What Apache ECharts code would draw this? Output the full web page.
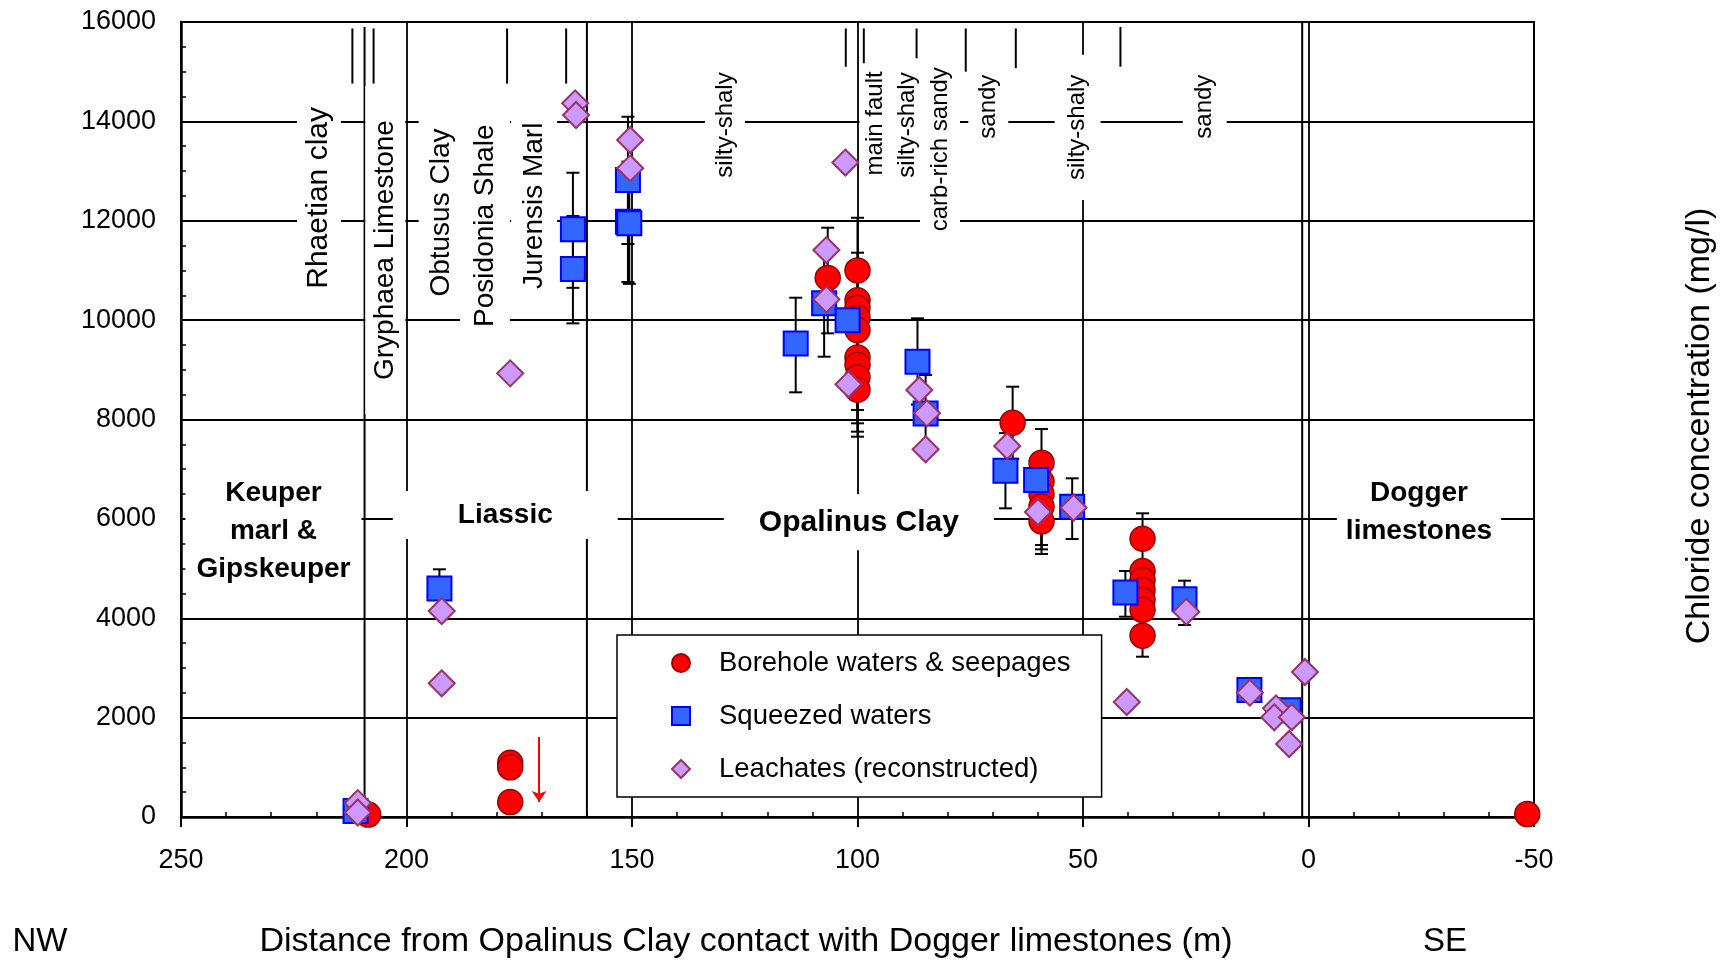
<!DOCTYPE html>
<html>
<head>
<meta charset="utf-8">
<title>Chloride profile</title>
<script src="https://cdn.jsdelivr.net/npm/echarts/dist/echarts.min.js"></script>
<style>
html, body { margin: 0; padding: 0; background: #fff; }
#main { width: 1722px; height: 962px; }
</style>
</head>
<body>
<div id="main"></div>
<script>
var FONT = "'Liberation Sans', Arial, sans-serif";

// borehole waters & seepages (m, mg/l)
var boreX = [208.5, 177, 177, 177, 106.6, 100, 100, 100, 100, 100, 100, 100, 100, 100,
    65.6, 59.2, 59.2, 59.2, 59.2, 59.2, 36.8, 36.8, 36.8, 36.8, 36.8, 36.8, 36.8, -48.5];
var boreY = [50, 1090, 1000, 300, 10850, 11000, 10400, 10250, 10050, 9800, 9250, 9100, 8850, 8600,
    7935, 7130, 6750, 6500, 6250, 5950, 5600, 4950, 4770, 4570, 4370, 4170, 3650, 60];
// error bars: x, low, high
var boreErrX = [106.6, 100, 100, 100, 100, 100, 100, 65.6, 59.2, 59.2, 59.2, 36.8, 36.8];
var boreErrLo = [9734, 9940, 9440, 8191, 7923, 7755, 7654, 7210, 5474, 5387, 5293, 5088, 3226];
var boreErrHi = [11860, 12060, 11357, 9009, 9777, 10445, 10846, 8660, 7808, 7100, 6600, 6112, 4074];

// squeezed waters
var sqX = [211.3, 192.7, 163.1, 163.1, 150.9, 150.9, 150.6, 113.7, 107.4, 102.2, 86.7, 84.9,
    67.2, 60.4, 52.4, 40.6, 27.5, 13.1, 4.4];
var sqY = [120, 4600, 11830, 11030, 12820, 11980, 11950, 9530, 10340, 10000, 9160, 8120,
    6970, 6780, 6245, 4520, 4380, 2556, 2150];
var sqErrX = [192.7, 163.1, 163.1, 150.9, 150.9, 150.6, 113.7, 107.4, 86.7, 84.9, 67.2, 52.4, 40.6, 27.5];
var sqErrLo = [4220, 10650, 9935, 11532, 10767, 10730, 8547, 9264, 8300, 7350, 6212, 5595, 4031, 3864];
var sqErrHi = [4985, 12966, 12095, 14093, 13190, 13170, 10451, 11424, 10036, 8895, 7726, 6816, 4951, 4756];

// leachates (reconstructed)
var leachX = [210.8, 210.8, 192.2, 192.2, 177.0, 162.6, 162.4, 150.4, 150.4, 106.9, 106.9, 102.7,
    102.0, 86.3, 84.6, 84.9, 66.8, 60.0, 52.1, 40.3, 27.1, 13.0, 7.2, 7.6, 3.7, 4.3, 0.8];
var leachY = [280, 90, 4146, 2691, 8929, 14363, 14128, 13625, 13055, 11410, 10418, 13171,
    8708, 8593, 8124, 7400, 7466, 6138, 6225, 2314, 4132, 2502, 2187, 2006, 2006, 1469, 2918];

// red arrow (upper limit) at Liassic
var arrowX = 170.6;
var arrowY = [1610, 300];

// formation boundaries drawn as vertical segments
var boundX = [212.0, 209.3, 207.3, 177.7, 164.6, 160, 102.6, 98.6, 86.9, 76.0, 64.9, 41.7, 1.4];
var boundTop = [15870, 15900, 15870, 15870, 15870, 16000, 15870, 15870, 15870, 15870, 15870, 15900, 16000];
var boundBottom = [14760, 0, 14760, 14760, 14760, 0, 15100, 15070, 15270, 15000, 15070, 15100, 0];

// annotations
var unitText = ['Rhaetian clay', 'Gryphaea Limestone', 'Obtusus Clay', 'Posidonia Shale', 'Jurensis Marl'];
var unitX = [219.4, 204.7, 192.2, 182.6, 171.7];
var unitY = [12460, 11410, 12165, 11900, 12300];

var faciesText = ['silty-shaly', 'main fault', 'silty-shaly', 'carb-rich sandy', 'sandy', 'silty-shaly', 'sandy'];
var faciesX = [129.4, 96.0, 88.9, 81.7, 71.0, 51.2, 23.0];
var faciesY = [13927, 13960, 13927, 13440, 14296, 13880, 14296];

var regionText = ['Keuper\nmarl &\nGipskeuper', 'Liassic', 'Opalinus Clay', 'Dogger\nlimestones'];
var regionX = [229.5, 178.1, 99.7, -24.5];
var regionY = [5755, 6078, 5930, 6138];

var xTicks = [250, 200, 150, 100, 50, 0, -50];
var yTicks = [0, 2000, 4000, 6000, 8000, 10000, 12000, 14000, 16000];

// label styling (white boxes cut the grid lines)
var unitSize = [30, 28, 28, 28, 28];
var unitPad = [[6, 10], [5, 34], [8, 10], [10, 10], [8, 10]];
var faciesPad = [[7, 8], [3, 8], [7, 8], [7, 8], [7, 8], [10, 20], [9, 8]];
var regionSize = [28, 28, 30, 28];
var regionPad = [[2, 11], [5, 65], [9, 35], [2, 9]];

function zip(xs, ys) {
    return xs.map(function (x, i) { return [x, ys[i]]; });
}

function zip3(xs, a, b) {
    return xs.map(function (x, i) { return [x, a[i], b[i]]; });
}

function rotatedLabels(texts, xs, ys, sizes, pads) {
    return texts.map(function (t, i) {
        var fs = sizes[i];
        return {
            name: t,
            value: [xs[i], ys[i]],
            label: {
                rotate: 90,
                fontSize: fs,
                lineHeight: fs + 2,
                padding: [pads[i][0], pads[i][1], pads[i][0], pads[i][1]]
            }
        };
    });
}

function flatLabels(texts, xs, ys, sizes, pads) {
    return texts.map(function (t, i) {
        return {
            name: t,
            value: [xs[i], ys[i]],
            label: {
                rotate: 0,
                fontSize: sizes[i],
                fontWeight: 'bold',
                lineHeight: 38,
                padding: [pads[i][0], pads[i][1], pads[i][0], pads[i][1]]
            }
        };
    });
}

function errorBar(params, api) {
    var x = api.value(0);
    var top = api.coord([x, api.value(2)]);
    var bot = api.coord([x, api.value(1)]);
    var w = 6.5;
    var st = { stroke: '#000', lineWidth: 2 };
    return {
        type: 'group',
        children: [
            { type: 'line', shape: { x1: top[0], y1: top[1], x2: bot[0], y2: bot[1] }, style: st },
            { type: 'line', shape: { x1: top[0] - w, y1: top[1], x2: top[0] + w, y2: top[1] }, style: st },
            { type: 'line', shape: { x1: bot[0] - w, y1: bot[1], x2: bot[0] + w, y2: bot[1] }, style: st }
        ]
    };
}

function boundLine(params, api) {
    var x = api.value(0);
    var top = api.coord([x, api.value(2)]);
    var bot = api.coord([x, api.value(1)]);
    return {
        type: 'line',
        shape: { x1: top[0], y1: top[1], x2: bot[0], y2: bot[1] },
        style: { stroke: '#000', lineWidth: 2 }
    };
}

var myChart = echarts.init(document.getElementById('main'));

var lineStyle = { color: '#000', width: 1.8 };

var option = {
    animation: false,
    backgroundColor: '#fff',
    textStyle: { fontFamily: FONT },
    grid: {
        left: 181, top: 22, right: 188, bottom: 145,
        show: true, borderColor: '#000', borderWidth: 2,
        containLabel: false, outerBoundsMode: 'none'
    },
    xAxis: {
        type: 'value', inverse: true, min: -50, max: 250, interval: 50,
        axisLine: { show: true, onZero: false, lineStyle: { color: '#000', width: 2.5 } },
        axisTick: { show: true, length: 10, lineStyle: { color: '#000', width: 2 } },
        minorTick: { show: true, splitNumber: 5, length: -5, lineStyle: { color: '#000', width: 1.5 } },
        splitLine: { show: true, lineStyle: lineStyle },
        axisLabel: {
            margin: 30, fontSize: 27, color: '#000', fontFamily: FONT,
            formatter: function (v) { return xTicks.indexOf(v) >= 0 ? String(v) : ''; }
        }
    },
    yAxis: {
        type: 'value', min: 0, max: 16000, interval: 2000,
        axisLine: { show: true, onZero: false, lineStyle: { color: '#000', width: 2.5 } },
        axisTick: { show: true, inside: true, length: 5, lineStyle: { color: '#000', width: 1.5 } },
        minorTick: { show: true, splitNumber: 4, length: 5, lineStyle: { color: '#000', width: 1.5 } },
        splitLine: { show: true, lineStyle: lineStyle },
        axisLabel: {
            margin: 25, fontSize: 27, color: '#000', fontFamily: FONT,
            formatter: function (v) { return yTicks.indexOf(v) >= 0 ? String(v) : ''; }
        }
    },
    legend: {
        data: ['Borehole waters & seepages', 'Squeezed waters', 'Leachates (reconstructed)'],
        orient: 'vertical', left: 617, top: 635,
        padding: [13, 31, 13, 54],
        itemGap: 23, itemWidth: 18, itemHeight: 18,
        backgroundColor: '#fff', borderColor: '#000', borderWidth: 1.5, borderRadius: 0,
        selectedMode: false, z: 10,
        textStyle: { fontSize: 27.5, fontFamily: FONT, color: '#000', lineHeight: 30, padding: [0, 0, 0, 24] }
    },
    graphic: [
        { type: 'text', x: 40, y: 942, z: 10,
          style: { text: 'NW', fontSize: 33, fontFamily: FONT, fill: '#000', align: 'center', verticalAlign: 'middle' } },
        { type: 'text', x: 746, y: 942, z: 10,
          style: { text: 'Distance from Opalinus Clay contact with Dogger limestones (m)', fontSize: 34,
                   fontFamily: FONT, fill: '#000', align: 'center', verticalAlign: 'middle' } },
        { type: 'text', x: 1445, y: 942, z: 10,
          style: { text: 'SE', fontSize: 33, fontFamily: FONT, fill: '#000', align: 'center', verticalAlign: 'middle' } },
        { type: 'text', x: 1700, y: 426, rotation: Math.PI / 2, z: 10,
          style: { text: 'Chloride concentration (mg/l)', fontSize: 34, fontFamily: FONT, fill: '#000',
                   align: 'center', verticalAlign: 'middle' } }
    ],
    series: [
        {
            name: 'boundaries', type: 'custom', z: 1, silent: true,
            renderItem: boundLine,
            encode: { x: 0, y: [1, 2] },
            data: zip3(boundX, boundBottom, boundTop)
        },
        {
            name: 'errors', type: 'custom', z: 2, silent: true,
            renderItem: errorBar,
            encode: { x: 0, y: [1, 2] },
            data: zip3(boreErrX, boreErrLo, boreErrHi).concat(zip3(sqErrX, sqErrLo, sqErrHi))
        },
        {
            name: 'Borehole waters & seepages', type: 'scatter', z: 3, silent: true,
            symbol: 'circle', symbolSize: 25,
            itemStyle: { color: '#ff0000', borderColor: '#990000', borderWidth: 1.5, opacity: 1 },
            data: zip(boreX, boreY),
            markLine: {
                silent: true, animation: false,
                symbol: ['none', 'arrow'], symbolSize: 11,
                lineStyle: { color: '#ff0000', width: 2, type: 'solid', opacity: 1 },
                label: { show: false },
                data: [[{ coord: [arrowX, arrowY[0]] }, { coord: [arrowX, arrowY[1]] }]]
            }
        },
        {
            name: 'Squeezed waters', type: 'scatter', z: 3, silent: true,
            symbol: 'rect', symbolSize: 24,
            itemStyle: { color: '#3366ff', borderColor: '#0000ff', borderWidth: 2, opacity: 1 },
            data: zip(sqX, sqY)
        },
        {
            name: 'Leachates (reconstructed)', type: 'scatter', z: 3, silent: true,
            symbol: 'diamond', symbolSize: 26,
            itemStyle: { color: '#cc99ff', borderColor: '#993366', borderWidth: 2, opacity: 1 },
            data: zip(leachX, leachY)
        },
        {
            name: 'labels', type: 'scatter', z: 4, silent: true,
            symbolSize: 1,
            itemStyle: { color: 'rgba(0,0,0,0)', opacity: 1 },
            label: {
                show: true, position: 'inside', formatter: '{b}',
                color: '#000', fontFamily: FONT, align: 'center', verticalAlign: 'middle',
                backgroundColor: '#fff', textBorderWidth: 0, opacity: 1
            },
            data: rotatedLabels(unitText, unitX, unitY, unitSize, unitPad)
                .concat(rotatedLabels(faciesText, faciesX, faciesY, faciesText.map(function () { return 24; }), faciesPad))
                .concat(flatLabels(regionText, regionX, regionY, regionSize, regionPad))
        }
    ]
};

myChart.setOption(option);
</script>
</body>
</html>
